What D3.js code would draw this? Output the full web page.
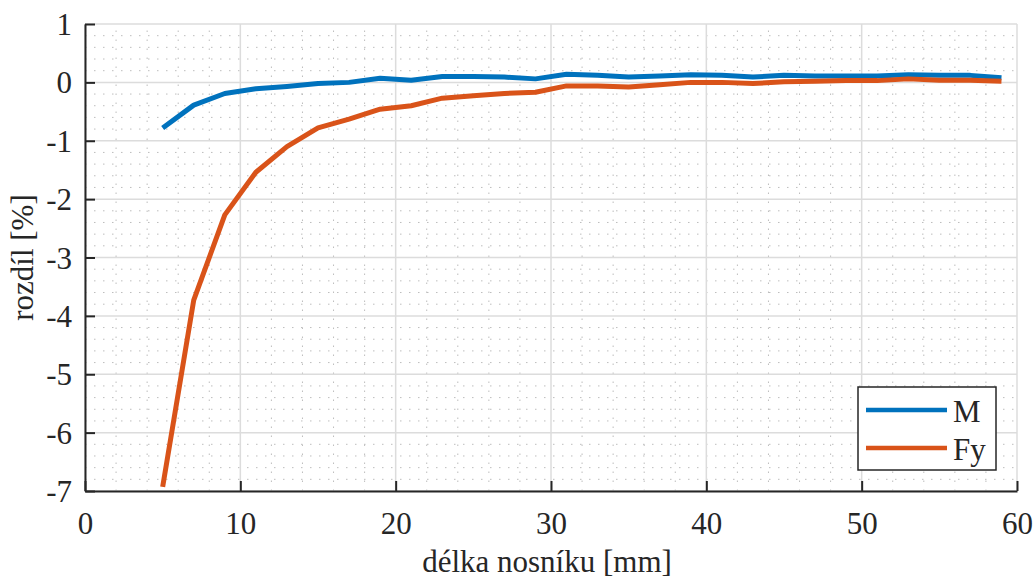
<!DOCTYPE html>
<html>
<head>
<meta charset="utf-8">
<script src="https://cdn.jsdelivr.net/npm/d3@7"></script>
<style>
  html, body { margin: 0; padding: 0; background: #fff; }
  svg { display: block; }
  text { font-family: "Liberation Serif", "Times New Roman", serif; fill: #262626; }
</style>
</head>
<body>
<svg id="chart" width="1036" height="579"></svg>
<script>
// Beam length [mm]
const lengths = [5, 7, 9, 11, 13, 15, 17, 19, 21, 23, 25, 27, 29, 31, 33, 35, 37, 39, 41, 43, 45, 47, 49, 51, 53, 55, 57, 59];
// Relative difference [%] for bending moment M
const diffM = [-0.78, -0.39, -0.19, -0.11, -0.07, -0.02, 0.0, 0.07, 0.035, 0.10, 0.10, 0.09, 0.06, 0.14, 0.12, 0.09, 0.11, 0.13, 0.12, 0.09, 0.12, 0.11, 0.11, 0.11, 0.13, 0.12, 0.12, 0.08];
// Relative difference [%] for force Fy
const diffFy = [-6.93, -3.73, -2.27, -1.54, -1.10, -0.78, -0.63, -0.46, -0.40, -0.27, -0.23, -0.19, -0.17, -0.06, -0.06, -0.08, -0.04, 0.0, 0.0, -0.02, 0.01, 0.02, 0.03, 0.03, 0.06, 0.035, 0.035, 0.02];

const xTicks = [0, 10, 20, 30, 40, 50, 60];
const yTicks = [1, 0, -1, -2, -3, -4, -5, -6, -7];
const seriesNames = ["M", "Fy"];
const seriesColors = ["#0072BD", "#D95319"];

const xLabel = "délka nosníku [mm]";
const yLabel = "rozdíl [%]";

const svg = d3.select("#chart");
const plot = { left: 85, right: 1017, top: 24, bottom: 491 };

const x = d3.scaleLinear().domain([0, 60]).range([plot.left, plot.right]);
const y = d3.scaleLinear().domain([-7, 1]).range([plot.bottom, plot.top]);

// Minor grid (dotted)
const xMinor = d3.range(0, 60.001, 2).filter(v => v % 10 !== 0);
const yMinor = d3.range(-7, 1.001, 0.2).map(v => +v.toFixed(1)).filter(v => Math.abs(v - Math.round(v)) > 1e-6);

const minor = svg.append("g")
  .attr("stroke", "#bdbdbd")
  .attr("stroke-width", 1)
  .attr("stroke-dasharray", "1.5 7.5")
  .attr("fill", "none");
minor.selectAll(".vx").data(xMinor).join("line")
  .attr("x1", d => x(d)).attr("x2", d => x(d))
  .attr("y1", plot.bottom).attr("y2", plot.top);
minor.selectAll(".hy").data(yMinor).join("line")
  .attr("x1", plot.left).attr("x2", plot.right)
  .attr("y1", d => y(d)).attr("y2", d => y(d));

// Major grid
const major = svg.append("g")
  .attr("stroke", "#dcdcdc")
  .attr("stroke-width", 1.5);
major.selectAll(".gx").data(xTicks).join("line")
  .attr("x1", d => x(d)).attr("x2", d => x(d))
  .attr("y1", plot.bottom).attr("y2", plot.top);
major.selectAll(".gy").data(yTicks).join("line")
  .attr("x1", plot.left).attr("x2", plot.right)
  .attr("y1", d => y(d)).attr("y2", d => y(d));

// Axes with inward ticks; labels use a plain hyphen for negatives
const fmt = d => String(d);
const xAxis = d3.axisBottom(x).tickValues(xTicks).tickFormat(fmt).tickSizeInner(-10).tickSizeOuter(0);
const yAxis = d3.axisLeft(y).tickValues(yTicks).tickFormat(fmt).tickSizeInner(-10).tickSizeOuter(0);

const gx = svg.append("g").attr("transform", `translate(0,${plot.bottom})`).call(xAxis);
const gy = svg.append("g").attr("transform", `translate(${plot.left},0)`).call(yAxis);

[gx, gy].forEach(g => {
  g.attr("font-family", null);
  g.select(".domain").attr("stroke", "#262626").attr("stroke-width", 2);
  g.selectAll(".tick line").attr("stroke", "#262626").attr("stroke-width", 2);
  g.selectAll(".tick text")
    .attr("font-family", "Liberation Serif, Times New Roman, serif")
    .attr("font-size", 31)
    .attr("fill", "#262626");
});
gx.selectAll(".tick text").attr("dy", null).attr("y", 43);
gy.selectAll(".tick text").attr("x", -13).attr("dy", "0.34em");

// Data lines
const line = d3.line().x((d, i) => x(lengths[i])).y(d => y(d));
[diffM, diffFy].forEach((vals, k) => {
  svg.append("path")
    .datum(vals)
    .attr("fill", "none")
    .attr("stroke", seriesColors[k])
    .attr("stroke-width", 5)
    .attr("stroke-linejoin", "round")
    .attr("d", line);
});

// Axis labels
svg.append("text")
  .attr("x", (plot.left + plot.right) / 2 - 4)
  .attr("y", 572)
  .attr("text-anchor", "middle")
  .attr("font-size", 31)
  .text(xLabel);

svg.append("text")
  .attr("transform", `translate(33,${(plot.top + plot.bottom) / 2}) rotate(-90)`)
  .attr("text-anchor", "middle")
  .attr("font-size", 31)
  .text(yLabel);

// Legend
const legend = svg.append("g");
legend.append("rect")
  .attr("x", 858).attr("y", 387)
  .attr("width", 138).attr("height", 83)
  .attr("fill", "#fff")
  .attr("stroke", "#262626")
  .attr("stroke-width", 1.5);
const rowsY = [410, 448];
seriesNames.forEach((name, k) => {
  legend.append("line")
    .attr("x1", 866).attr("x2", 947)
    .attr("y1", rowsY[k]).attr("y2", rowsY[k])
    .attr("stroke", seriesColors[k])
    .attr("stroke-width", 4.5);
  legend.append("text")
    .attr("x", 953).attr("y", rowsY[k] + 12)
    .attr("font-size", 31)
    .text(name);
});
</script>
</body>
</html>
